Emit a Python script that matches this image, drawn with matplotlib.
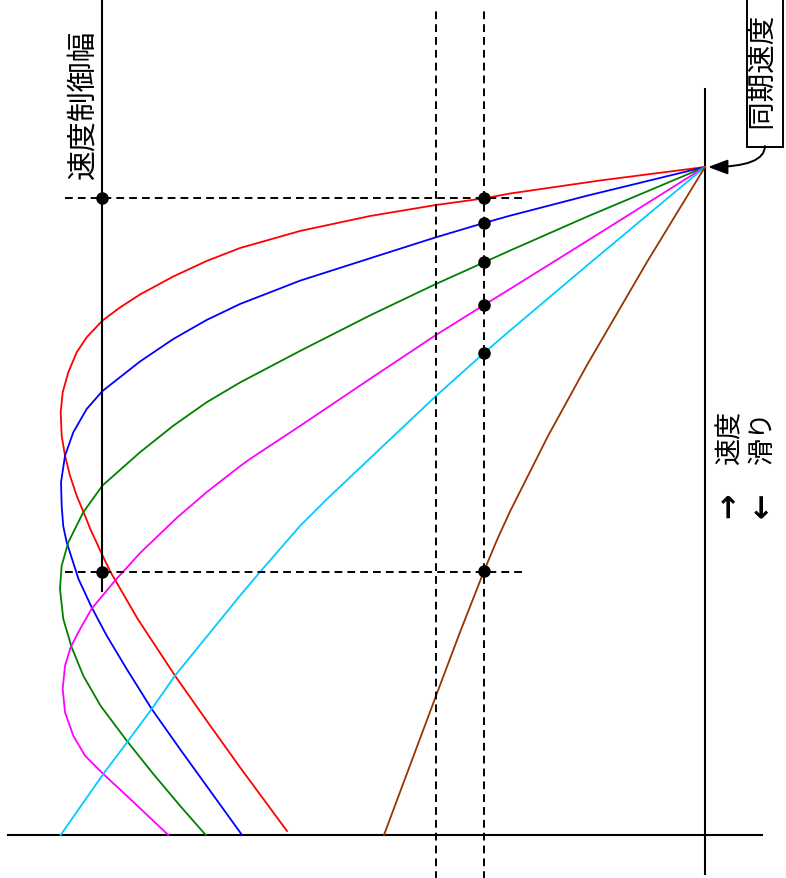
import matplotlib
matplotlib.use("Agg")
import matplotlib.pyplot as plt

plt.rcParams['font.family'] = ['Noto Sans CJK JP', 'DejaVu Sans']

# speed [% of synchronous] vs torque [% of breakdown torque]
# one curve per secondary resistance step (r1 smallest ... r6 largest)
speed_r1 = [100, 97.98, 96.03, 95.30, 94.31, 92.66, 90.42, 87.87, 85.93, 83.61, 80.91,
            78.97, 76.99, 74.51, 72.26, 69.27, 66.27, 63.28, 59.78, 56.78, 53.79, 50.79,
            47.80, 45.81, 41.92, 39.37, 32.34, 23.85, 17.11, 10.13, 0.60]
torque_r1 = [0, 16.28, 30.23, 34.26, 41.71, 51.94, 62.79, 72.09, 77.26, 82.43, 87.60,
             90.70, 93.44, 95.86, 97.41, 98.71, 99.58, 99.89, 99.74, 99.22, 98.45, 97.41,
             96.12, 95.30, 93.44, 92.17, 87.95, 82.17, 77.26, 72.09, 64.81]

speed_r2 = [100, 95.70, 92.71, 91.62, 89.48, 86.33, 82.98, 79.49, 77.10, 74.25, 70.88,
            66.44, 63.77, 60.28, 56.78, 52.80, 49.30, 46.26, 43.82, 38.32, 34.09, 29.84,
            24.85, 18.86, 12.87, 0]
torque_r2 = [0, 18.29, 30.23, 34.26, 41.71, 51.94, 62.79, 72.09, 77.26, 82.43, 87.60,
             93.44, 95.86, 97.94, 99.22, 99.84, 99.74, 99.50, 98.96, 97.13, 95.09, 92.76,
             89.66, 85.78, 81.40, 71.78]

speed_r3 = [100, 92.56, 87.49, 85.73, 82.49, 77.78, 72.46, 67.74, 64.78, 61.27, 57.29,
            52.29, 48.31, 43.82, 40.31, 36.83, 32.34, 28.10, 23.85, 19.36, 14.12, 9.13,
            4.39, 0]
torque_r3 = [0, 18.29, 30.23, 34.26, 41.71, 51.94, 62.79, 72.09, 77.26, 82.43, 87.60,
             93.44, 96.39, 98.71, 99.74, 100.0, 99.49, 98.19, 96.39, 93.72, 89.66, 85.53,
             81.40, 77.41]

speed_r4 = [100, 88.92, 81.74, 79.34, 74.85, 68.28, 61.23, 56.29, 55.21, 51.32, 47.46,
            42.19, 38.07, 33.88, 30.34, 28.10, 25.34, 21.86, 18.37, 14.87, 11.87, 9.13,
            5.88, 0]
torque_r4 = [0, 18.29, 30.23, 34.26, 41.71, 51.94, 62.79, 70.54, 72.09, 77.26, 81.91,
             87.60, 91.47, 95.09, 97.16, 98.34, 99.22, 99.58, 99.22, 97.94, 96.12, 93.29,
             89.66, 83.21]

speed_r5 = [100, 85.25, 75.51, 72.16, 65.72, 56.38, 50.30, 46.26, 39.37, 35.82, 23.85,
            18.86, 14.12, 9.13, 0]
torque_r5 = [0, 18.29, 30.23, 34.26, 41.71, 51.94, 58.60, 62.79, 68.99, 72.09, 82.17,
             85.78, 89.41, 93.29, 99.89]

speed_r6 = [100, 85.78, 70.36, 59.73, 48.43, 44.16, 39.52, 30.36, 20.81, 0]
torque_r6 = [0, 8.99, 18.29, 24.34, 30.23, 32.25, 34.26, 37.98, 41.71, 49.77]

curve_colors = ['#ff0000', '#0000ff', '#008000', '#ff00ff', '#00ccff', '#993300']

# load torque and operating speeds on it
load_torque = 34.26
load_torque_2 = 41.75
op_speeds = [95.30, 91.62, 85.73, 79.34, 72.16, 39.45]

# speed control range
speed_hi = 95.36
speed_lo = 39.37
range_torque = 93.49

fig = plt.figure(figsize=(7.86, 8.79), dpi=100)
ax = fig.add_axes([0, 0, 1, 1])
ax.set_xlim(109.30, -12.56)
ax.set_ylim(-6.44, 125.15)
ax.axis('off')

# axes
ax.plot([108.06, -8.84], [0, 0], color='black', lw=1.5)
ax.plot([0, 0], [-5.84, 111.68], color='black', lw=1.5)

curves = [(torque_r1, speed_r1), (torque_r2, speed_r2), (torque_r3, speed_r3),
          (torque_r4, speed_r4), (torque_r5, speed_r5), (torque_r6, speed_r6)]
for (t, n), c in zip(curves, curve_colors):
    ax.plot(t, n, color=c, lw=1.3, solid_joinstyle='round')

dash = dict(color='black', lw=1.4, ls=(0, (4, 2.6)))
ax.plot([load_torque, load_torque], [-7, 123.9], **dash)
ax.plot([load_torque_2, load_torque_2], [-7, 123.65], **dash)
ax.plot([99.22, 28.37], [speed_hi, speed_hi], **dash)
ax.plot([99.22, 28.37], [speed_lo, speed_lo], **dash)

ax.plot([range_torque, range_torque], [36.53, 126], color='black', lw=1.5)

ax.plot([load_torque] * len(op_speeds), op_speeds, 'o', color='black', ms=8)
ax.plot([range_torque, range_torque], [speed_hi, speed_lo], 'o', color='black', ms=8)

ax.text(96.51, 109.48, '速度制御幅', rotation=90, ha='center', va='center', fontsize=21.5)

ax.text(-9.30, 114.2, '\u2002同期速度\u2002', rotation=90, ha='center', va='center',
        fontsize=20.5, bbox=dict(boxstyle='square,pad=0.12', fc='white', ec='black', lw=1.4))
ax.annotate('', xy=(-0.47, 100), xytext=(-9.30, 103.14),
            arrowprops=dict(arrowstyle='-|>,head_length=0.8,head_width=0.3',
                            connectionstyle='angle3,angleA=90,angleB=0',
                            color='black', lw=1.4, mutation_scale=15,
                            shrinkA=0, shrinkB=0))

# direction labels: speed up / slip down
ax.text(-3.88, 49.55, '→', rotation=90, ha='center', va='center', fontsize=22,
        family='DejaVu Sans', fontweight='bold')
ax.text(-3.88, 59.66, '速度', rotation=90, ha='center', va='center', fontsize=19.5)
ax.text(-8.99, 49.55, '←', rotation=90, ha='center', va='center', fontsize=22,
        family='DejaVu Sans', fontweight='bold')
ax.text(-8.99, 59.66, '滑り', rotation=90, ha='center', va='center', fontsize=19.5)

fig.savefig('out.png', dpi=100)
